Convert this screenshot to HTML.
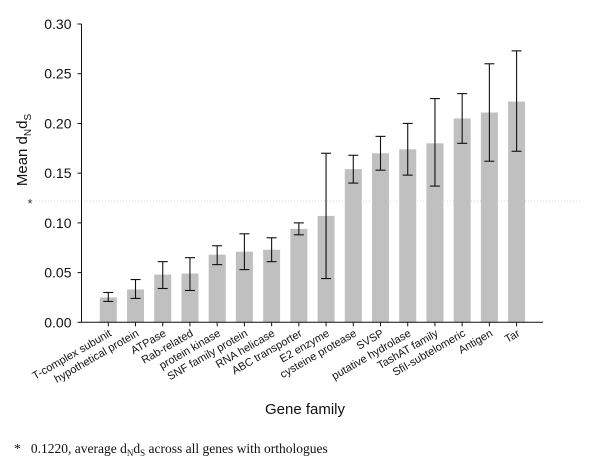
<!DOCTYPE html>
<html><head><meta charset="utf-8"><style>
body{margin:0;background:#fff}
svg{display:block}
text{font-family:"Liberation Sans",sans-serif}
</style></head><body>
<svg width="600" height="475" id="c">
</svg>
<script>
const categories=["T-complex subunit","hypothetical protein","ATPase","Rab-related","protein kinase","SNF family protein","RNA helicase","ABC transporter","E2 enzyme","cysteine protease","SVSP","putative hydrolase","TashAT family","SfiI-subtelomeric","Antigen","Tar"];
const means=[0.025,0.033,0.048,0.049,0.068,0.071,0.073,0.094,0.107,0.154,0.170,0.174,0.180,0.205,0.211,0.222];
const lows=[0.021,0.024,0.034,0.032,0.058,0.053,0.061,0.088,0.044,0.140,0.153,0.148,0.137,0.180,0.162,0.172];
const highs=[0.030,0.043,0.061,0.065,0.077,0.089,0.085,0.100,0.170,0.168,0.187,0.200,0.225,0.230,0.260,0.273];
const yTicks=[0,0.05,0.10,0.15,0.20,0.25,0.30];
const yTickLabels=["0.00","0.05","0.10","0.15","0.20","0.25","0.30"];
const refValue=0.122;

const svg=document.getElementById('c');
const NS='http://www.w3.org/2000/svg';
const y0=322.3,yTop=24,x0=81.5,xEnd=543;
const y=v=>y0-(v/0.30)*(y0-yTop);
const x=i=>108.3+i*27.22;
const bw=17;
function mk(t,a,p){const e=document.createElementNS(NS,t);for(const k in a)e.setAttribute(k,a[k]);(p||svg).appendChild(e);return e;}

let rl=mk('line',{x1:36,x2:582,y1:y(refValue),y2:y(refValue),stroke:'#ccc','stroke-width':0.8,'stroke-dasharray':'1,2'});


let ast=mk('text',{x:30,y:y(refValue)+7,'font-size':13,'text-anchor':'middle',fill:'#333'});
ast.textContent='*';



categories.forEach((c,i)=>{
  const b=mk('rect',{x:x(i)-bw/2,y:y(means[i]),width:bw,height:y0-y(means[i]),fill:'#c0c0c0'});
  
  
  const g=mk('g',{stroke:'#111','stroke-width':1.1});
  
  
  mk('line',{x1:x(i),x2:x(i),y1:y(lows[i]),y2:y(highs[i])},g);
  mk('line',{x1:x(i)-5,x2:x(i)+5,y1:y(lows[i]),y2:y(lows[i])},g);
  mk('line',{x1:x(i)-5,x2:x(i)+5,y1:y(highs[i]),y2:y(highs[i])},g);
  mk('line',{x1:x(i),x2:x(i),y1:y0,y2:y0+4,stroke:'#111'});
  const t=mk('text',{x:0,y:0,'font-size':11,'text-anchor':'end',fill:'#111',transform:`translate(${x(i)+4},${y0+13}) rotate(-30)`});
  t.textContent=c;
  
  
});

let ya=mk('line',{x1:x0,x2:x0,y1:yTop,y2:y0,stroke:'#111','stroke-width':1});


let xa=mk('line',{x1:x0,x2:xEnd,y1:y0,y2:y0,stroke:'#111','stroke-width':1});


yTicks.forEach((v,i)=>{
  mk('line',{x1:x0-4,x2:x0,y1:y(v),y2:y(v),stroke:'#111'});
  const t=mk('text',{x:x0-10,y:y(v)+5,'font-size':14,'text-anchor':'end',fill:'#111'});
  t.textContent=yTickLabels[i];
  
  
});
let yt=mk('text',{x:0,y:0,'font-size':15,'text-anchor':'middle',fill:'#111',transform:'translate(27,150) rotate(-90)'});
yt.innerHTML='Mean d<tspan font-size="10" dy="4">N</tspan><tspan dy="-4">d</tspan><tspan font-size="10" dy="4">S</tspan>';


let xt=mk('text',{x:305,y:414,'font-size':15,'text-anchor':'middle',fill:'#111'});
xt.textContent='Gene family';


let fn=mk('text',{x:14,y:453,'font-size':13.5,fill:'#111',style:'font-family:"Liberation Serif",serif'});
fn.innerHTML='*&#160;&#160;&#160;0.1220, average d<tspan font-size="9" dy="3">N</tspan><tspan dy="-3">d</tspan><tspan font-size="9" dy="3">S</tspan><tspan dy="-3"> across all genes with orthologues</tspan>';


</script>
</body></html>
